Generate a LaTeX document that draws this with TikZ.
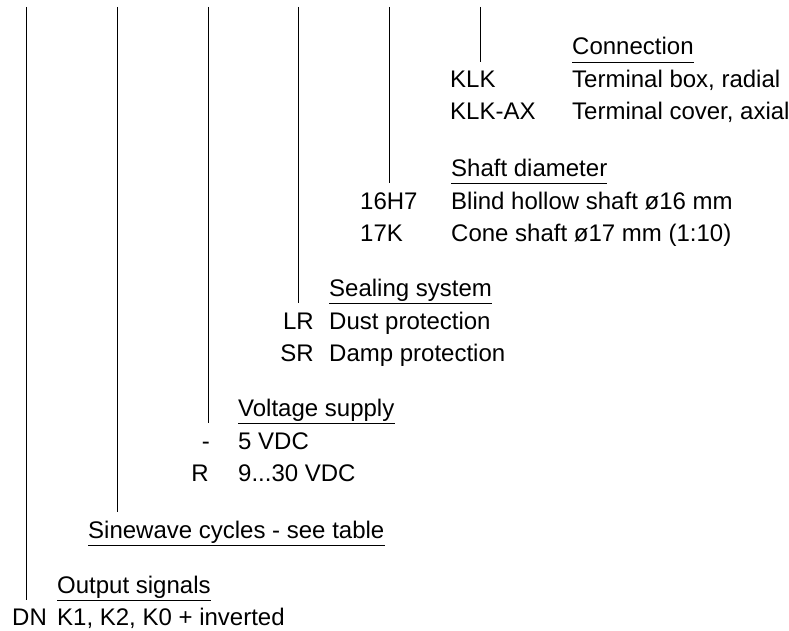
\documentclass[tikz,border=0pt]{standalone}
\usepackage{fontspec}
\setmainfont{Liberation Sans}
\usetikzlibrary{calc}

\begin{document}
\begin{tikzpicture}[x=1pt,y=-1pt,
    every node/.style={inner sep=0pt, anchor=base west, font=\fontsize{24}{28}\selectfont},
    heading/.style={text depth=7pt},
    code/.style={anchor=base east},
    lead/.style={line width=1pt}]
\useasboundingbox (0,0) rectangle (789,631);

% Top of the lines
\coordinate (T1) at (26,7);
\coordinate (T2) at (117,7);
\coordinate (T3) at (208,7);
\coordinate (T4) at (298,7);
\coordinate (T5) at (389,7);
\coordinate (T6) at (480,7);
\coordinate (E2) at (117,512);

% Connection
\node[heading] (conn) at (572,55) {Connection};
\draw (conn.south west) -- (conn.south east);
\node (klk) at (450,88) {KLK};
\node (klkax) at (450,120) {KLK-AX};
\node (klkd) at (572,88) {Terminal box, radial};
\node (klkaxd) at (572,120) {Terminal cover, axial};

% Shaft diameter
\node[heading] (shaft) at (451,176) {Shaft diameter};
\draw (shaft.south west) -- (shaft.south east);
\node (h7) at (360,209) {16H7};
\node (k17) at (360,241) {17K};
\node (h7d) at (451,209) {Blind hollow shaft ø16 mm};
\node (k17d) at (451,241) {Cone shaft ø17 mm (1:10)};

% Sealing system
\node[heading] (seal) at (329,296) {Sealing system};
\draw (seal.south west) -- (seal.south east);
\node[code] (lr) at (314,329) {LR};
\node[code] (sr) at (314,361) {SR};
\node (lrd) at (329,329) {Dust protection};
\node (srd) at (329,361) {Damp protection};

% Voltage supply
\node[heading] (volt) at (238,416) {Voltage supply};
\draw (volt.south west) -- (volt.south east);
\node[code] (v5) at (210,449) {-};
\node[code] (v30) at (209,481) {R};
\node (v5d) at (238,449) {5 VDC};
\node (v30d) at (238,481) {9...30 VDC};

% Sinewave cycles
\node[heading] (sine) at (88,538) {Sinewave cycles - see table};
\draw (sine.south west) -- (sine.south east);

% Output signals
\node[heading] (outp) at (57,593) {Output signals};
\draw (outp.south west) -- (outp.south east);
\node (dn) at (12,625) {DN};
\node (dnd) at (57,625) {K1, K2, K0 + inverted};

% Lines
\draw[lead] (T1) -- (T1 |- outp.south);
\draw[lead] (T2) -- (E2);
\draw[lead] (T3) -- (T3 |- volt.south);
\draw[lead] (T4) -- (T4 |- seal.south);
\draw[lead] (T5) -- (T5 |- shaft.south);
\draw[lead] (T6) -- (T6 |- conn.south);
\end{tikzpicture}
\end{document}
